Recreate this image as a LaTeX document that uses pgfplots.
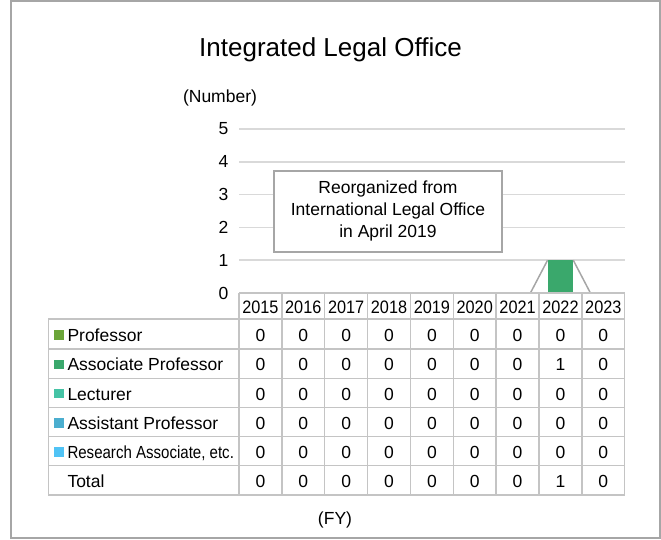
\documentclass[border=0pt]{standalone}
\usepackage{fontspec}
\setmainfont{Liberation Sans}
\usepackage{pgfplots}
\usepackage{pgfplotstable}
\pgfplotsset{compat=1.18}
\definecolor{cProf}{HTML}{6BA539}
\definecolor{cAssoc}{HTML}{3AA86C}
\definecolor{cLect}{HTML}{45C3A5}
\definecolor{cAsst}{HTML}{4BAECF}
\definecolor{cRes}{HTML}{50C3F5}
\definecolor{bordergray}{HTML}{A6A6A6}
\definecolor{gridgray}{HTML}{D9D9D9}
\definecolor{tablegray}{HTML}{C4C4C4}
\definecolor{boxgray}{HTML}{A6A6A6}
\definecolor{seriesgray}{HTML}{A6A6A6}

\pgfplotstableread{
x year prof assoc lect asst res total
0 2015 0 0 0 0 0 0
1 2016 0 0 0 0 0 0
2 2017 0 0 0 0 0 0
3 2018 0 0 0 0 0 0
4 2019 0 0 0 0 0 0
5 2020 0 0 0 0 0 0
6 2021 0 0 0 0 0 0
7 2022 0 1 0 0 0 1
8 2023 0 0 0 0 0 0
}\datatable

\begin{document}
\begin{tikzpicture}[x=1pt,y=1pt]
\path (0pt,0pt) rectangle (661pt,540pt);
\draw[bordergray, line width=2pt] (11,539) rectangle (659.5,1.5);

\node[anchor=base, font=\fontsize{26}{30}\selectfont] at (330.5,483.3) {Integrated Legal Office};
\node[font=\fontsize{17.5}{21}\selectfont] at (220,442) {(Number)};
\node[font=\fontsize{17.5}{21}\selectfont] at (335,20) {(FY)};

\begin{axis}[
  at={(239pt,247pt)}, anchor=south west,
  scale only axis, width=385.7pt, height=164pt,
  xmin=-0.5, xmax=8.5, ymin=0, ymax=5,
  ytick={0,1,2,3,4,5}, xtick=\empty,
  ymajorgrids, grid style={draw=gridgray, line width=1.5pt},
  axis line style={draw=none}, major tick length=0pt,
  yticklabel style={font=\fontsize{17.5}{21}\selectfont, xshift=-7pt},
  /pgf/number format/assume math mode=true,
  ybar stacked, bar width=0.6,
  clip=false,
]
\addplot[fill=cProf, draw=none] table[x=x,y=prof]{\datatable};
\addplot[fill=cAssoc, draw=none] table[x=x,y=assoc]{\datatable};
\addplot[fill=cLect, draw=none] table[x=x,y=lect]{\datatable};
\addplot[fill=cAsst, draw=none] table[x=x,y=asst]{\datatable};
\addplot[fill=cRes, draw=none] table[x=x,y=res]{\datatable};
\end{axis}

\begin{axis}[
  at={(239pt,247pt)}, anchor=south west,
  scale only axis, width=385.7pt, height=164pt,
  xmin=-0.5, xmax=8.5, ymin=0, ymax=5,
  hide axis, clip=false,
]
\addplot[seriesgray, line width=1.5pt, mark=none] coordinates {(6.3,0) (6.7,1)};
\addplot[seriesgray, line width=1.5pt, mark=none] coordinates {(7.3,1) (7.7,0)};
\end{axis}

% annotation
\node[draw=boxgray, line width=1.6pt, fill=white, minimum width=228pt, minimum height=81pt,
  align=center, font=\fontsize{17.5}{22}\selectfont] at (388,328.6)
  {Reorganized from\\International Legal Office\\in April 2019};

% data table grid
\begin{scope}[tablegray, line width=1.4pt]
\draw (239,247) -- (624.7,247);
\foreach \yy in {221,191,161.7,132.7,103.3,74.3,45} {\draw (48.3,\yy) -- (624.7,\yy);}
\draw (48.3,221) -- (48.3,45);
\foreach \k in {0,...,9} {\draw ({239+42.86*\k},247) -- ({239+42.86*\k},45);}
\end{scope}

% table header (years)
\foreach \r in {0,...,8} {
  \pgfplotstablegetelem{\r}{year}\of\datatable
  \node[font=\fontsize{17.5}{21}\selectfont, text height=12.5pt, text depth=0pt, inner sep=0pt]
    at ({239+42.86*(\r+0.5)},232.3) {\scalebox{0.93}[1.03]{\pgfplotsretval}};
}
% table contents
\foreach \col/\yy in {prof/204.8,assoc/175.3,lect/146.2,asst/117,res/87.8,total/58.6} {
  \foreach \r in {0,...,8} {
    \pgfplotstablegetelem{\r}{\col}\of\datatable
    \node[font=\fontsize{17.5}{21}\selectfont, text height=12.5pt, text depth=0pt, inner sep=0pt]
      at ({239+42.86*(\r+0.5)},\yy) {\pgfplotsretval};
  }
}

% row labels with legend keys
\begin{scope}[every node/.style={anchor=west, inner sep=0pt, text height=12.5pt, text depth=0pt, font=\fontsize{17.5}{21}\selectfont}]
\fill[cProf] (54,200.1) rectangle (63.8,209.9);
\node at (67.3,204.8) {Professor};
\fill[cAssoc] (54,170.6) rectangle (63.8,180.4);
\node at (67.3,175.3) {Associate Professor};
\fill[cLect] (54,141.5) rectangle (63.8,151.3);
\node at (67.3,146.2) {Lecturer};
\fill[cAsst] (54,112.3) rectangle (63.8,122.1);
\node at (67.3,117) {Assistant Professor};
\fill[cRes] (54,83.1) rectangle (63.8,92.9);
\node at (67.3,87.8) {\scalebox{0.86}[1]{Research Associate, etc.}};
\node at (67.3,58.6) {Total};
\end{scope}
\end{tikzpicture}
\end{document}
